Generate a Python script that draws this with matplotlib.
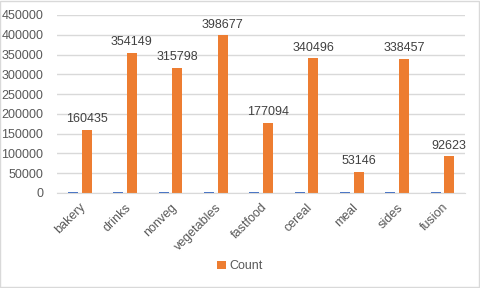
import matplotlib
matplotlib.use('Agg')
import matplotlib.pyplot as plt
import numpy as np
from matplotlib.patches import Rectangle

categories = ['bakery', 'drinks', 'nonveg', 'vegetables', 'fastfood',
              'cereal', 'meal', 'sides', 'fusion']
counts = [160435, 354149, 315798, 398677, 177094, 340496, 53146, 338457, 92623]
# tiny blue series next to each bar (close to zero)
other = [1500, 1500, 1500, 1500, 1500, 1500, 1500, 1500, 1500]

plt.rcParams['font.family'] = ['Liberation Sans', 'DejaVu Sans']

fig = plt.figure(figsize=(4.8, 2.88), dpi=100)
ax = fig.add_axes([0.119, 0.330, 0.850, 0.618])

x = np.arange(len(categories))
ax.bar(x - 0.15, other, width=0.22, color='#4472C4')
bars = ax.bar(x + 0.15, counts, width=0.22, color='#ED7D31', label='Count')
for xi, c in zip(x, counts):
    ax.text(xi + 0.15, c + 12000, str(c), ha='center', va='bottom',
            fontsize=9, color='#404040')

ax.set_xlim(-0.5, len(categories) - 0.5)
ax.set_ylim(0, 450000)
ax.set_yticks(np.arange(0, 450001, 50000))
ax.set_xticks(x)
ax.set_xticklabels(categories, rotation=45, ha='right', rotation_mode='anchor')
ax.tick_params(axis='both', length=0, labelsize=9, colors='#595959')
ax.tick_params(axis='y', pad=10)
ax.tick_params(axis='x', pad=6)
ax.yaxis.grid(True, color='#D9D9D9', linewidth=1)
ax.set_axisbelow(True)
for s in ['top', 'right', 'left']:
    ax.spines[s].set_visible(False)
ax.spines['bottom'].set_color('#D9D9D9')

fig.legend(handles=[bars], labels=['Count'], loc='center',
           bbox_to_anchor=(0.5, 0.075), frameon=False, fontsize=9,
           labelcolor='#595959', handlelength=0.7, handleheight=0.7,
           handletextpad=0.3)

fig.patches.append(Rectangle((0.001, 0.002), 0.997, 0.995, transform=fig.transFigure,
                             fill=False, edgecolor='#D9D9D9', linewidth=1))

plt.savefig('out.png', dpi=100)
